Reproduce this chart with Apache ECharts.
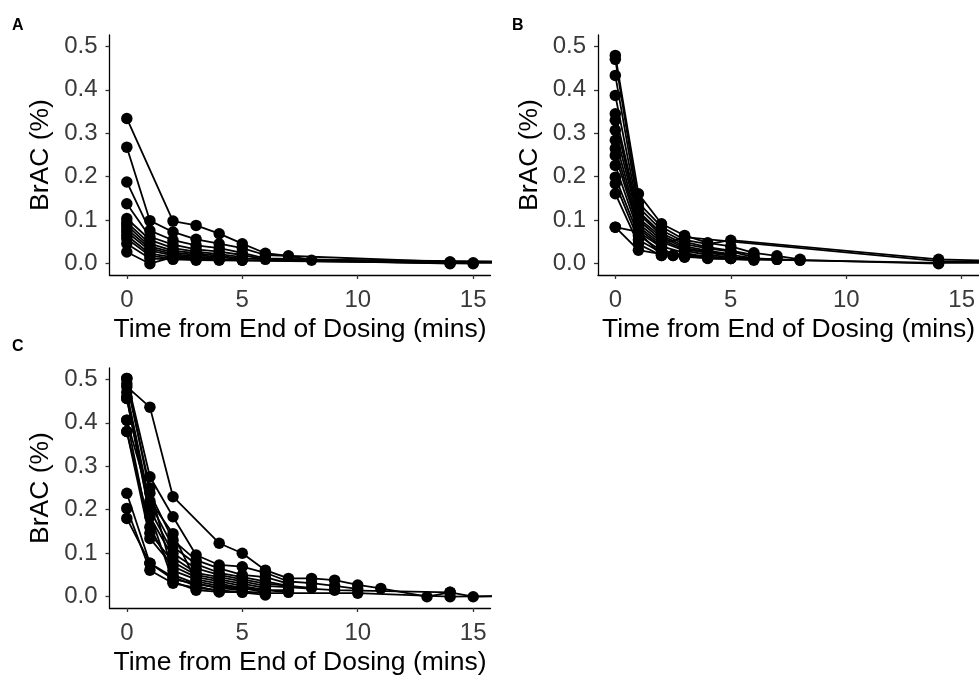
<!DOCTYPE html>
<html>
<head>
<meta charset="utf-8">
<script src="https://cdn.jsdelivr.net/npm/echarts@6/dist/echarts.min.js"></script>
<style>html,body{margin:0;padding:0;background:#fff}#c{width:979px;height:678px}</style>
</head>
<body>
<div id="c"></div>
<script>
// ---- data: each subject is a list of [time (mins), BrAC (%)] ----
const xTicks = [0, 5, 10, 15];
const yTicks = [0, 0.1, 0.2, 0.3, 0.4, 0.5];
const panelLabels = ['A', 'B', 'C'];
const xTitle = 'Time from End of Dosing (mins)';
const yTitle = 'BrAC (%)';

const panelA = [
  [[0,0.334],[2,0.098],[3,0.088],[4,0.069],[5,0.046],[6,0.024],[7,0.018],[8,0.008],[14,0.004],[20,0.002]],
  [[0,0.268],[1,0.099],[2,0.073],[3,0.056],[4,0.046],[5,0.036],[6,0.02],[14,0.004]],
  [[0,0.188],[1,0.076],[2,0.054],[3,0.042],[4,0.036],[5,0.025],[6,0.012],[15,0.002]],
  [[0,0.138],[1,0.062],[2,0.044],[3,0.033],[4,0.028],[5,0.02],[6,0.01],[20,0.003]],
  [[0,0.104],[1,0.055],[2,0.036],[3,0.028],[4,0.022],[5,0.015]],
  [[0,0.095],[1,0.046],[2,0.03],[3,0.024],[4,0.018],[5,0.012],[14,0.0]],
  [[0,0.088],[1,0.04],[2,0.026],[3,0.02],[4,0.015],[5,0.01]],
  [[0,0.08],[1,0.035],[2,0.022],[3,0.017],[4,0.012]],
  [[0,0.073],[1,0.03],[2,0.019],[3,0.014],[4,0.01],[5,0.008]],
  [[0,0.065],[1,0.023],[2,0.015],[3,0.012],[4,0.008]],
  [[0,0.058],[1,0.018],[2,0.012],[3,0.01]],
  [[0,0.046],[1,0.012],[2,0.01],[3,0.008],[14,0.002],[20,0.002]],
  [[0,0.027],[1,0.0],[2,0.015],[3,0.012],[4,0.01],[5,0.008],[15,0.0]]
];

const panelB = [
  [[0,0.479],[1,0.161],[2,0.092],[3,0.065],[4,0.048],[5,0.04],[6,0.025],[7,0.018],[8,0.01]],
  [[0,0.470],[1,0.14],[2,0.085],[3,0.055],[4,0.045],[5,0.054],[14,0.01],[20,0.002]],
  [[0,0.433],[1,0.13],[2,0.077],[3,0.05],[4,0.038],[5,0.03],[6,0.02]],
  [[0,0.387],[1,0.12],[2,0.07],[3,0.045],[4,0.035],[5,0.028],[6,0.015]],
  [[0,0.345],[1,0.115],[2,0.065],[3,0.04],[4,0.03],[5,0.022]],
  [[0,0.330],[1,0.105],[2,0.061],[3,0.036],[4,0.028],[6,0.013]],
  [[0,0.307],[1,0.1],[2,0.055],[3,0.033],[4,0.025],[5,0.018]],
  [[0,0.284],[1,0.092],[2,0.05],[3,0.03],[4,0.02],[5,0.015],[7,0.01]],
  [[0,0.265],[1,0.085],[2,0.045],[3,0.061],[14,0.006],[20,0.003]],
  [[0,0.249],[1,0.08],[2,0.04],[3,0.025],[4,0.015],[5,0.012],[8,0.008]],
  [[0,0.226],[1,0.073],[2,0.038],[2.5,0.019],[3,0.02],[4,0.015]],
  [[0,0.199],[1,0.065],[2,0.03],[3,0.019],[5,0.012]],
  [[0,0.184],[1,0.055],[2,0.025],[3,0.016],[4,0.013],[6,0.008]],
  [[0,0.161],[1,0.045],[2,0.019],[2.5,0.019],[3,0.015]],
  [[0,0.084],[1,0.031],[2,0.022],[3,0.02],[4,0.015],[5,0.012],[6,0.01],[7,0.01],[8,0.008],[14,0.0]],
  [[0,0.084],[1,0.073],[2,0.019],[3,0.018],[4,0.012],[14,0.002],[20,0.002]]
];

const panelC = [
  [[0,0.483],[1,0.436],[2,0.23],[4,0.123],[5,0.1],[6,0.061],[7,0.042],[8,0.042],[9,0.038],[10,0.027],[11,0.019],[13,0.0],[14,0.01],[15,0.0],[20,0.004]],
  [[0,0.502],[1,0.276],[2,0.184],[3,0.096],[4,0.073],[5,0.069],[6,0.055],[7,0.035],[8,0.031],[9,0.025],[10,0.018]],
  [[0,0.502],[1,0.238],[2,0.13],[3,0.084],[4,0.065],[5,0.05],[6,0.045],[7,0.03]],
  [[0,0.47],[1,0.215],[2,0.115],[3,0.075],[4,0.055],[5,0.045],[6,0.035],[7,0.025]],
  [[0,0.456],[1,0.2],[2,0.1],[3,0.065],[4,0.05],[5,0.04],[6,0.03],[8,0.02]],
  [[0,0.456],[1,0.184],[2,0.09],[3,0.055],[4,0.045],[5,0.035],[6,0.025],[9,0.015],[14,0.01]],
  [[0,0.406],[1,0.146],[2,0.08],[3,0.05],[4,0.04],[5,0.03],[6,0.02]],
  [[0,0.38],[1,0.134],[2,0.07],[3,0.045],[4,0.035],[5,0.025],[6,0.015],[7,0.015]],
  [[0,0.38],[1,0.16],[2,0.06],[3,0.04],[4,0.03],[5,0.02],[6,0.01]],
  [[0,0.406],[1,0.22],[2,0.145],[3,0.035],[4,0.025],[5,0.02]],
  [[0,0.49],[1,0.25],[2,0.05],[3,0.03],[4,0.02],[5,0.02],[6,0.015],[7,0.01]],
  [[0,0.46],[1,0.19],[2,0.035],[3,0.015],[4,0.011],[5,0.012],[6,0.008],[10,0.008],[14,0.0],[20,0.004]],
  [[0,0.238],[1,0.077],[2,0.04],[3,0.03],[4,0.02],[5,0.015]],
  [[0,0.203],[1,0.061],[2,0.031],[3,0.02],[4,0.015],[6,0.004]],
  [[0,0.18],[1,0.077],[2,0.045],[3,0.025],[4,0.012],[5,0.01]]
];

const panels = [panelA, panelB, panelC];

// ---- layout ----
const grids = [
  {left: 109.5, top: 35, width: 381, height: 240},
  {left: 598,   top: 35, width: 381, height: 240},
  {left: 109.5, top: 368, width: 381, height: 240}
];
const labelPos = [[12, 18], [512, 18], [12, 339]];
const FONT = 'Liberation Sans, Arial, sans-serif';

const xAxes = [], yAxes = [], series = [], graphics = [];
grids.forEach((g, i) => {
  xAxes.push({
    gridIndex: i, type: 'value', min: -0.75, max: 15.75,
    splitLine: {show: false},
    axisLine: {show: true, onZero: false, lineStyle: {color: '#000', width: 1.3}},
    axisTick: {show: true, length: 4, customValues: xTicks, lineStyle: {color: '#333', width: 1.3}},
    axisLabel: {customValues: xTicks, margin: 13, fontSize: 24, color: '#3a3a3a', fontFamily: FONT},
    name: xTitle, nameLocation: 'middle', nameGap: 41,
    nameTextStyle: {fontSize: 26.5, color: '#000', fontFamily: FONT}
  });
  yAxes.push({
    gridIndex: i, type: 'value', min: -0.026, max: 0.526,
    splitLine: {show: false},
    axisLine: {show: true, onZero: false, lineStyle: {color: '#000', width: 1.3}},
    axisTick: {show: true, length: 4, customValues: yTicks, lineStyle: {color: '#333', width: 1.3}},
    axisLabel: {customValues: yTicks, margin: 12, fontSize: 24, color: '#3a3a3a', fontFamily: FONT,
      formatter: v => v.toFixed(1)},
    name: yTitle, nameLocation: 'middle', nameGap: 55, nameRotate: 90,
    nameTextStyle: {fontSize: 26.5, color: '#000', fontFamily: FONT}
  });
  panels[i].forEach(subj => {
    series.push({
      type: 'line', xAxisIndex: i, yAxisIndex: i, data: subj,
      clip: true, symbol: 'circle', symbolSize: 11.5, showSymbol: true,
      lineStyle: {color: '#000', width: 1.8},
      itemStyle: {color: '#000'},
      animation: false, silent: true
    });
  });
  graphics.push({
    type: 'text', left: labelPos[i][0], top: labelPos[i][1],
    style: {text: panelLabels[i], fontSize: 16, fontWeight: 'bold', fill: '#000', fontFamily: FONT}
  });
});

const chart = echarts.init(document.getElementById('c'), null, {renderer: 'canvas'});
chart.setOption({
  backgroundColor: '#fff',
  animation: false,
  grid: grids,
  xAxis: xAxes,
  yAxis: yAxes,
  series: series,
  graphic: graphics
});
</script>
</body>
</html>
